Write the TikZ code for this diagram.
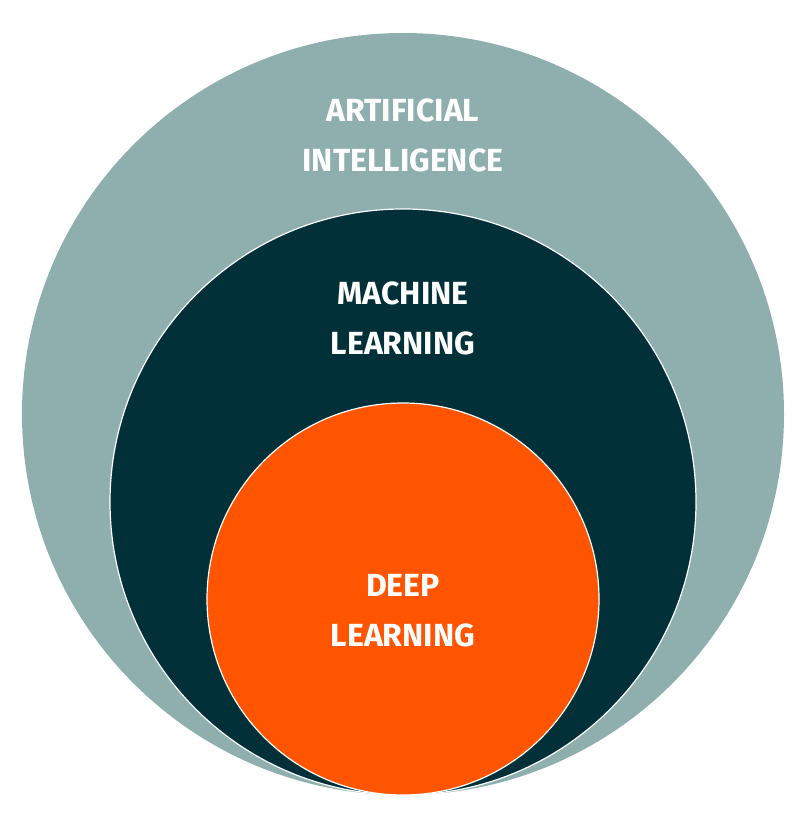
\documentclass[tikz,border=0pt]{standalone}
\usepackage{fontspec}
\setmainfont{Fira Sans}
\usetikzlibrary{positioning}
\definecolor{aigray}{HTML}{8FAFAF}
\definecolor{mlteal}{HTML}{023039}
\definecolor{dlorange}{HTML}{FF5500}
\tikzset{%
  ring/.style = {circle,draw=white,line width=1.2pt,inner sep=0pt},
  lbl/.style = {text=white,align=center,font=\fontsize{32}{50}\selectfont\bfseries}
}

\begin{document}
\begin{tikzpicture}[x=1pt,y=-1pt]
  \useasboundingbox (0,0) rectangle (807,834);
  \node[ring,fill=aigray,draw=none,minimum size=762] (ai) at (403,414) {};
  \node[ring,fill=mlteal,minimum size=586] (ml) at (403,502) {};
  \node[ring,fill=dlorange,minimum size=392] (dl) at (403,599) {};
  % labels
  \node[lbl] (ailbl) at (403,135) {ARTIFICIAL\\INTELLIGENCE};
  \node[lbl] (mllbl) at (403,318) {MACHINE\\LEARNING};
  \node[lbl] (dllbl) at (403,611) {DEEP\\LEARNING};
\end{tikzpicture}
\end{document}
